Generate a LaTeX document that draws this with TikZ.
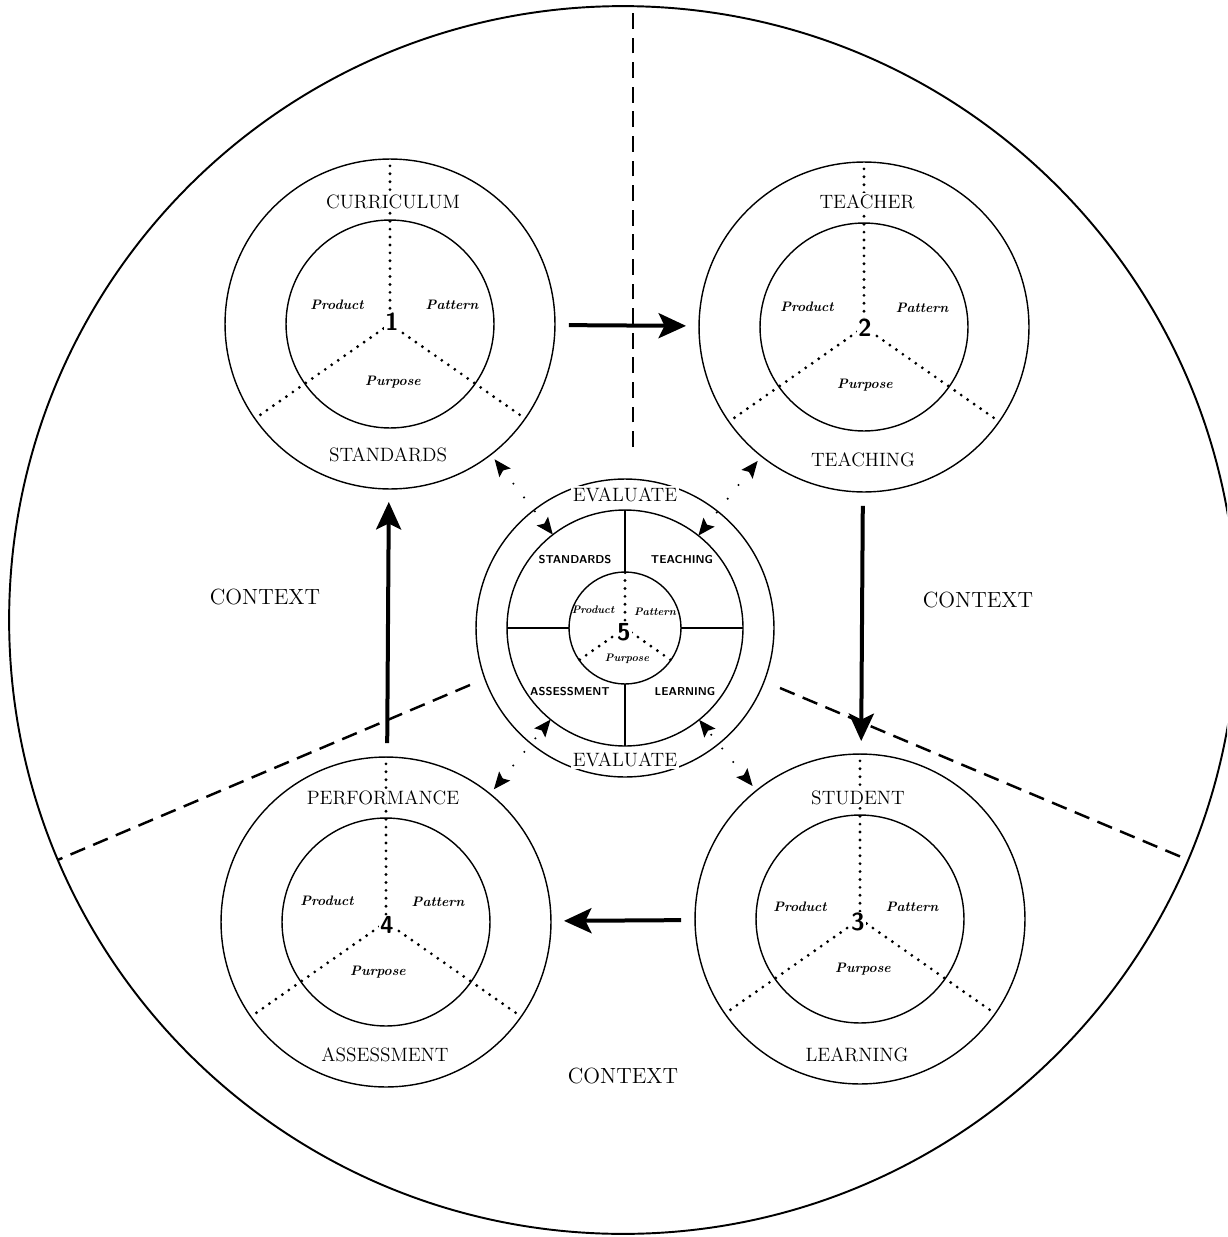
\documentclass[tikz,border=0pt]{standalone}
\usetikzlibrary{arrows.meta}
\tikzstyle{context}=[circle,draw,line width=1.1pt,minimum size=24.56cm,inner sep=0pt,outer sep=0pt]
\tikzstyle{ring}=[circle,draw,line width=0.8pt,minimum size=6.6cm,inner sep=0pt,outer sep=0pt]
\tikzstyle{core}=[circle,draw,line width=0.8pt,minimum size=4.16cm,inner sep=0pt,outer sep=0pt]
\tikzstyle{spoke}=[line width=1.8pt,line cap=round,dash pattern=on 0pt off 4.5pt]
\tikzstyle{border}=[line width=1.4pt,dash pattern=on 9pt off 5pt]
\tikzstyle{flow}=[line width=0.08cm,shorten <=0.28cm,shorten >=0.26cm,-{Stealth[length=0.55cm,width=0.5cm,inset=0.12cm]}]
\tikzstyle{check}=[line width=1.3pt,line cap=round,dash pattern=on 0pt off 0.35cm,shorten <=0.12cm,
  {Stealth[length=0.34cm,width=0.28cm,inset=0.06cm]}-{Stealth[length=0.34cm,width=0.28cm,inset=0.06cm]}]
\tikzstyle{title}=[font=\fontsize{11}{13}\selectfont,fill=white,inner sep=1pt]
\tikzstyle{part}=[font=\fontsize{7.8}{9}\selectfont\bfseries\itshape,inner sep=1pt]
\tikzstyle{num}=[font=\fontsize{14}{16}\selectfont\sffamily\bfseries,fill=white,inner sep=0.5pt]
\tikzstyle{area}=[font=\fontsize{12.5}{14}\selectfont]
\tikzstyle{field}=[font=\fontsize{6.5}{8}\selectfont\sffamily\bfseries,inner sep=1pt]
\tikzstyle{smallpart}=[font=\fontsize{6.2}{7}\selectfont\bfseries\itshape,inner sep=0.5pt]

\begin{document}
\begin{tikzpicture}[x=0.02cm,y=-0.02cm]
\useasboundingbox (0,0) rectangle (1227,1237);
\clip (0,0) rectangle (1227,1237);
\node[context] at (623,620) (ctx) {};
% the three sectors
\coordinate (cutA) at (633,447);
\coordinate (cutB) at (470,685);
\coordinate (cutC) at (780,688);
\draw[border] (cutA) -- (cutA |- ctx.north);
\draw[border] (cutB) -- (ctx.203);
\draw[border] (cutC) -- (ctx.337);

\node[ring] at (390,324) (c1) {};
\node[core] at (390,324) (c1i) {};
\node[ring] at (864,327) (c2) {};
\node[core] at (864,327) (c2i) {};
\node[ring] at (860,919) (c3) {};
\node[core] at (860,919) (c3i) {};
\node[ring] at (386,922) (c4) {};
\node[core] at (386,922) (c4i) {};

\draw[spoke] (c1.center) -- (c1.90) (c1.center) -- (c1.215) (c1.center) -- (c1.325);
\draw[spoke] (c2.center) -- (c2.90) (c2.center) -- (c2.215) (c2.center) -- (c2.325);
\draw[spoke] (c3.center) -- (c3.90) (c3.center) -- (c3.215) (c3.center) -- (c3.325);
\draw[spoke] (c4.center) -- (c4.90) (c4.center) -- (c4.215) (c4.center) -- (c4.325);

% evaluation hub
\node[circle,draw,line width=0.8pt,minimum size=5.96cm,inner sep=0pt,outer sep=0pt] at (625,628) (c5) {};
\node[circle,draw,line width=0.8pt,minimum size=4.72cm,inner sep=0pt,outer sep=0pt] at (625,628) (c5m) {};
\node[circle,draw,line width=0.8pt,minimum size=2.24cm,inner sep=0pt,outer sep=0pt] at (625,628) (c5i) {};
\draw[line width=0.8pt] (c5i.90) -- (c5m.90) (c5i.270) -- (c5m.270) (c5i.180) -- (c5m.180) (c5i.0) -- (c5m.0);
\draw[spoke] (c5i.center) -- (c5i.90) (c5i.center) -- (c5i.215) (c5i.center) -- (c5i.325);

% main cycle
\draw[flow] (c1) -- (c2);
\draw[flow] (c2) -- (c3);
\draw[flow] (c3) -- (c4);
\draw[flow] (c4) -- (c1);
\draw[check] (c1) -- (c5m);
\draw[check] (c2) -- (c5m);
\draw[check] (c3) -- (c5m);
\draw[check] (c4) -- (c5m);

\node[title] at (393,202) (t1) {CURRICULUM};
\node[title] at (388,455) (b1) {STANDARDS};
\node[part] at (337,305) (pd1) {Product};
\node[part] at (452,305) (pt1) {Pattern};
\node[part] at (393,382) (pp1) {Purpose};
\node[num] at (392,322) (n1) {1};

\node[title] at (867,202) (t2) {TEACHER};
\node[title] at (863,460) (b2) {TEACHING};
\node[part] at (807,307) (pd2) {Product};
\node[part] at (922,308) (pt2) {Pattern};
\node[part] at (865,385) (pp2) {Purpose};
\node[num] at (865,328) (n2) {2};

\node[title] at (858,798) (t3) {STUDENT};
\node[title] at (857,1055) (b3) {LEARNING};
\node[part] at (800,907) (pd3) {Product};
\node[part] at (912,907) (pt3) {Pattern};
\node[part] at (863,969) (pp3) {Purpose};
\node[num] at (858,922) (n3) {3};

\node[title] at (383,798) (t4) {PERFORMANCE};
\node[title] at (385,1055) (b4) {ASSESSMENT};
\node[part] at (327,901) (pd4) {Product};
\node[part] at (438,902) (pt4) {Pattern};
\node[part] at (378,972) (pp4) {Purpose};
\node[num] at (387,925) (n4) {4};

\node[title] at (625,495) (e1) {EVALUATE};
\node[title] at (625,760) (e2) {EVALUATE};
\node[field] at (575,560) (f1) {STANDARDS};
\node[field] at (682,560) (f2) {TEACHING};
\node[field] at (570,692) (f3) {ASSESSMENT};
\node[field] at (685,692) (f4) {LEARNING};
\node[smallpart] at (593,610) (pd5) {Product};
\node[smallpart] at (655,612) (pt5) {Pattern};
\node[smallpart] at (627,659) (pp5) {Purpose};
\node[num] at (624,632) (n5) {5};

\node[area] at (265,597) (x1) {CONTEXT};
\node[area] at (978,600) (x2) {CONTEXT};
\node[area] at (623,1076) (x3) {CONTEXT};
\end{tikzpicture}
\end{document}
